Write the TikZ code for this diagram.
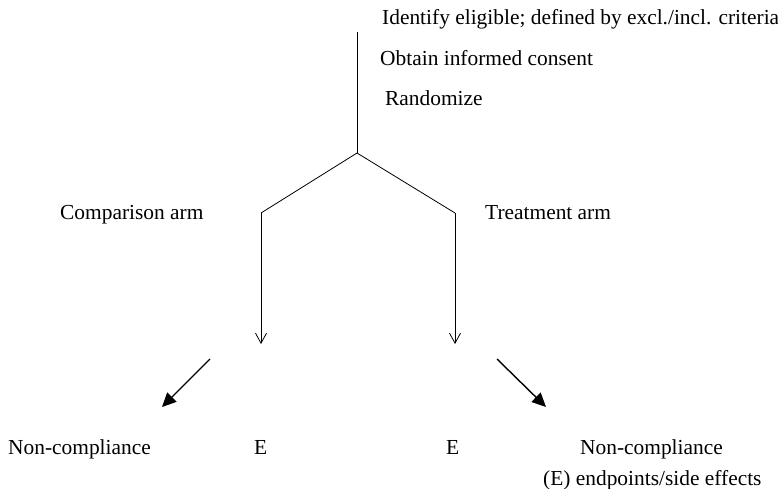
\documentclass[tikz,border=0pt]{standalone}
\usepackage{fontspec}
\setmainfont{Liberation Serif}
\usetikzlibrary{arrows.meta}
\begin{document}
\begin{tikzpicture}[x=1pt,y=-1pt,
  lbl/.style={font=\fontsize{21.4}{24}\selectfont, inner sep=0pt, anchor=base west},
  thin/.style={line width=0.8pt},
  thinarrow/.style={line width=0.8pt, -{Straight Barb[length=10pt,width=11pt]}},
  bigarrow/.style={line width=1.4pt, -{Triangle[length=14pt,width=13pt]}}]
\useasboundingbox (0,0) rectangle (778,489);
% texts
\node[lbl] (t1) at (382,25) {Identify eligible; defined by excl./incl. criteria};
\node[lbl] (t2) at (380,66) {Obtain informed consent};
\node[lbl] (t3) at (385,106) {Randomize};
\node[lbl] (ca) at (60,219) {Comparison arm};
\node[lbl] (ta) at (485,219) {Treatment arm};
\node[lbl] (nl) at (8,454) {Non-compliance};
\node[lbl] (el) at (254,454) {E};
\node[lbl] (er) at (446,454) {E};
\node[lbl] (nr) at (580,454) {Non-compliance};
\node[lbl] (ep) at (543,485) {(E) endpoints/side effects};
% tree
\coordinate (top) at (357,32);
\coordinate (apex) at (357,153);
\coordinate (lk) at (261,213);
\coordinate (rk) at (455,213);
\coordinate (la) at (261,344);
\coordinate (ra) at (455,344);
\draw[thin] (top) -- (apex);
\draw[thin] (apex) -- (lk);
\draw[thin] (apex) -- (rk);
\draw[thinarrow] (lk) -- (la);
\draw[thinarrow] (rk) -- (ra);
% big arrows
\coordinate (bls) at (210,359);
\coordinate (ble) at (162,407);
\coordinate (brs) at (497,359);
\coordinate (bre) at (546,407);
\draw[bigarrow] (bls) -- (ble);
\draw[bigarrow] (brs) -- (bre);
\end{tikzpicture}
\end{document}
